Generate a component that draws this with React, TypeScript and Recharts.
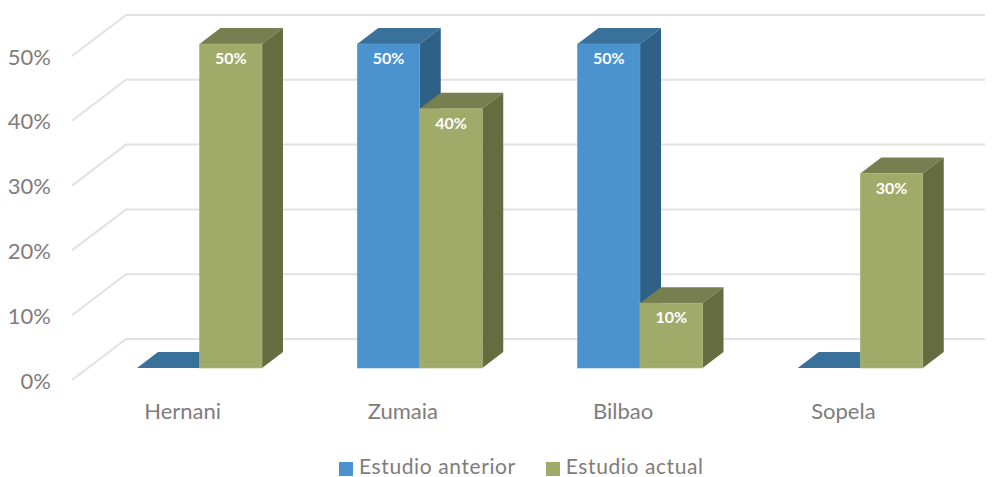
import { BarChart, Bar, XAxis, YAxis, CartesianGrid, Legend, LabelList } from "recharts";

const categories = ["Hernani", "Zumaia", "Bilbao", "Sopela"];
const estudioAnterior = [0, 50, 50, 0];
const estudioActual = [50, 40, 10, 30];
const yTicks = [0, 10, 20, 30, 40, 50];

const chartData = categories.map((name, i) => ({
  name,
  anterior: estudioAnterior[i],
  actual: estudioActual[i],
}));

const FONT = "Lato, 'Open Sans', sans-serif";
const TEXT = "#7f7c7c";

// depth of the fake 3D boxes
const DX = 21;
const DY = -16;

const BLUE = { front: "#4a93cf", top: "#3a719b", side: "#2f6187", edge: "#5c9dd3" };
const GREEN = { front: "#a1ab69", top: "#777e50", side: "#656c40", edge: "#adb67c" };

function box(colors: typeof BLUE) {
  return function Box3D(props: any) {
    const { x, y, width, height } = props;
    return (
      <g>
        <polygon
          points={`${x},${y} ${x + DX},${y + DY} ${x + width + DX},${y + DY} ${x + width},${y}`}
          fill={colors.top}
        />
        <polygon
          points={`${x + width},${y} ${x + width + DX},${y + DY} ${x + width + DX},${y + height + DY} ${x + width},${y + height}`}
          fill={colors.side}
        />
        {height > 0 && (
          <rect x={x} y={y} width={width} height={height} fill={colors.front} stroke={colors.edge} strokeWidth={0.6} />
        )}
      </g>
    );
  };
}

// wall + floor line for each gridline
function GridLine3D(props: any) {
  const { x1, x2, y1 } = props;
  return (
    <polyline
      points={`${x1 - 17},${y1 + 12} ${x1 + 37},${y1 - 29} ${x2 + 15},${y1 - 29}`}
      fill="none"
      stroke="#e2e2e2"
      strokeWidth={2}
    />
  );
}

function YTick(props: any) {
  const { y, payload } = props;
  return (
    <text x={51} y={y + 12} dy={8.5} textAnchor="end" fontFamily={FONT} fontSize={22} fill={TEXT}>
      {payload.value}%
    </text>
  );
}

function XTick(props: any) {
  const { x, payload } = props;
  return (
    <text x={x - 16.5} y={419} textAnchor="middle" fontFamily={FONT} fontSize={22} fill={TEXT}>
      {payload.value}
    </text>
  );
}

function BarValue(props: any) {
  const { x, y, width, value } = props;
  if (!value) return null;
  return (
    <text x={x + width / 2} y={y + 20} textAnchor="middle" fontFamily={FONT} fontSize={16} fontWeight={700} fill="#ffffff">
      {value}%
    </text>
  );
}

function LegendRow({ payload }: any) {
  return (
    <div style={{ display: "flex", justifyContent: "flex-start", paddingLeft: 339 }}>
      {(payload || []).map((item: any, i: number) => (
        <div key={item.value} style={{ display: "flex", alignItems: "center", marginRight: i === 0 ? 30 : 0 }}>
          <div style={{ width: 14, height: 14, background: item.color, marginRight: 6, position: "relative", top: 3 }} />
          <span style={{ fontFamily: FONT, fontSize: 21, letterSpacing: 0.6, color: TEXT, lineHeight: "16px" }}>{item.value}</span>
        </div>
      ))}
    </div>
  );
}

export default function App() {
  return (
    <div style={{ position: "absolute", left: 0, top: 0, width: 995, height: 477, overflow: "hidden", background: "#fff" }}>
      <BarChart
        width={995}
        height={477}
        data={chartData}
        barSize={62.5}
        barGap={0}
        margin={{ top: 44, right: 25, bottom: 0, left: 0 }}
      >
        <CartesianGrid vertical={false} horizontal={(p: any) => <GridLine3D key={p.index} {...p} />} />
        <XAxis dataKey="name" height={109} axisLine={false} tickLine={false} tick={<XTick />} interval={0} />
        <YAxis width={89} domain={[0, 50]} ticks={yTicks} axisLine={false} tickLine={false} tick={<YTick />} />
        <Legend verticalAlign="middle" itemSorter={null} content={<LegendRow />} wrapperStyle={{ top: 458, left: 0, width: 995 }} />
        <Bar dataKey="anterior" name="Estudio anterior" fill={BLUE.front} shape={box(BLUE)} isAnimationActive={false}>
          <LabelList dataKey="anterior" content={<BarValue />} />
        </Bar>
        <Bar dataKey="actual" name="Estudio actual" fill={GREEN.front} shape={box(GREEN)} isAnimationActive={false}>
          <LabelList dataKey="actual" content={<BarValue />} />
        </Bar>
      </BarChart>
    </div>
  );
}
